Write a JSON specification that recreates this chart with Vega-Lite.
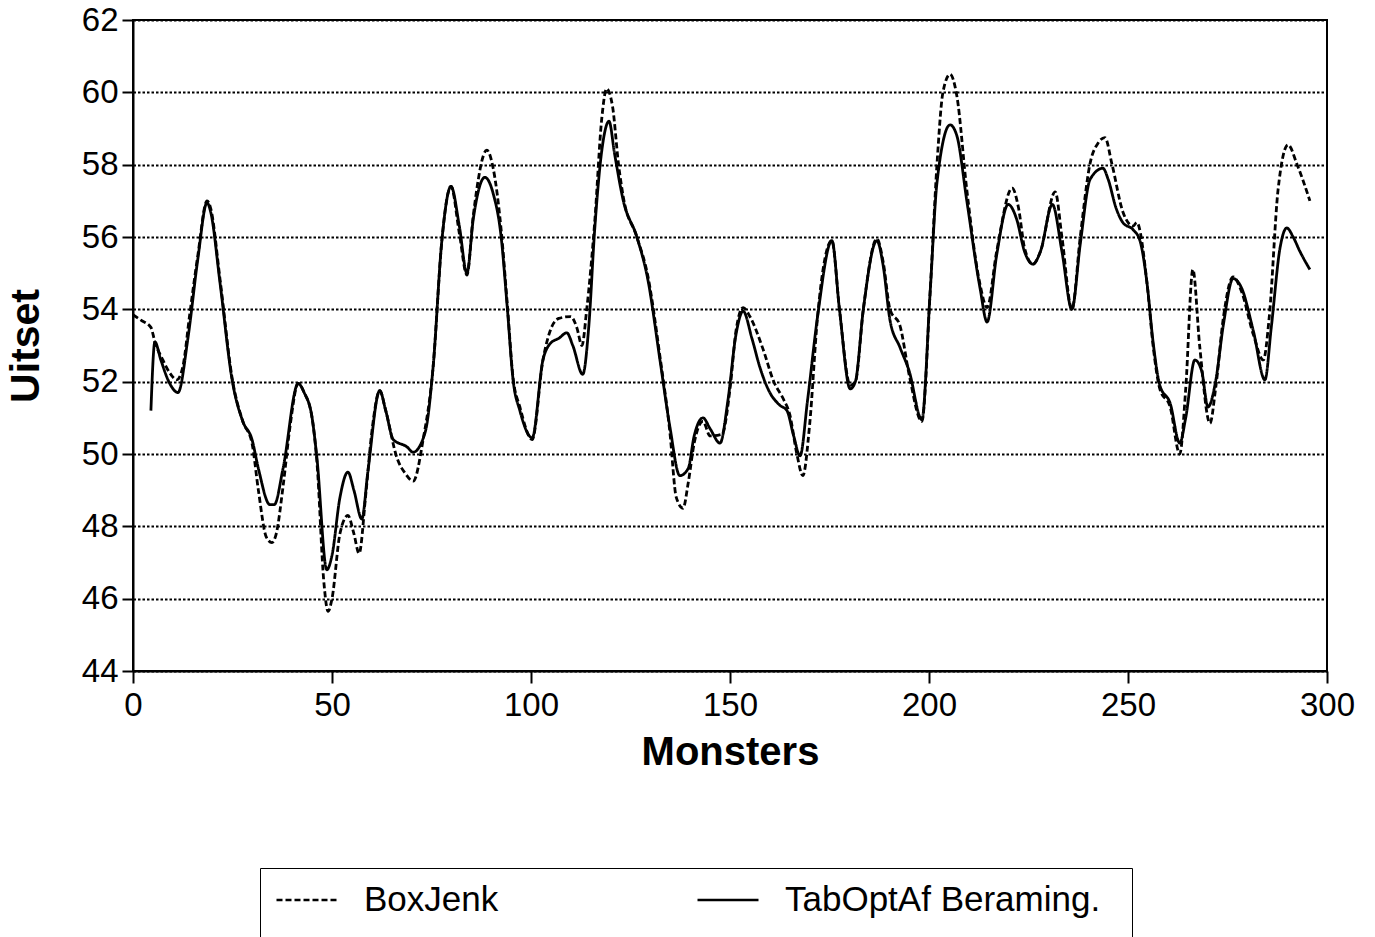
{
  "$schema": "https://vega.github.io/schema/vega-lite/v6.json",
  "width": 1194,
  "height": 651,
  "autosize": {"type": "none"},
  "padding": {"left": 133, "top": 20, "right": 48, "bottom": 266},
  "background": "white",
  "config": {
    "font": "Liberation Sans",
    "view": {"stroke": "black", "strokeWidth": 2}
  },
  "data": {"values": [
{"s":"TabOptAf Beraming.","m":4.5,"u":51.2},{"s":"TabOptAf Beraming.","m":5.5,"u":53.1},{"s":"TabOptAf Beraming.","m":7,"u":52.6},{"s":"TabOptAf Beraming.","m":9,"u":52.0},{"s":"TabOptAf Beraming.","m":11.3,"u":51.7},{"s":"TabOptAf Beraming.","m":13.8,"u":53.2},{"s":"TabOptAf Beraming.","m":16.3,"u":55.4},{"s":"TabOptAf Beraming.","m":18.6,"u":56.95},{"s":"TabOptAf Beraming.","m":19.5,"u":56.7},{"s":"TabOptAf Beraming.","m":21.9,"u":54.7},{"s":"TabOptAf Beraming.","m":24.9,"u":52.05},{"s":"TabOptAf Beraming.","m":27.6,"u":50.9},{"s":"TabOptAf Beraming.","m":29.9,"u":50.4},{"s":"TabOptAf Beraming.","m":31.5,"u":49.6},{"s":"TabOptAf Beraming.","m":34.4,"u":48.6},{"s":"TabOptAf Beraming.","m":35.5,"u":48.6},{"s":"TabOptAf Beraming.","m":37.7,"u":49.6},{"s":"TabOptAf Beraming.","m":41.5,"u":51.95},{"s":"TabOptAf Beraming.","m":43,"u":51.7},{"s":"TabOptAf Beraming.","m":45,"u":51.0},{"s":"TabOptAf Beraming.","m":46.2,"u":49.9},{"s":"TabOptAf Beraming.","m":48.7,"u":46.8},{"s":"TabOptAf Beraming.","m":50,"u":47.2},{"s":"TabOptAf Beraming.","m":52,"u":48.8},{"s":"TabOptAf Beraming.","m":54,"u":49.5},{"s":"TabOptAf Beraming.","m":55.5,"u":49.0},{"s":"TabOptAf Beraming.","m":57.5,"u":48.2},{"s":"TabOptAf Beraming.","m":59,"u":49.5},{"s":"TabOptAf Beraming.","m":62,"u":51.75},{"s":"TabOptAf Beraming.","m":63.5,"u":51.2},{"s":"TabOptAf Beraming.","m":65.4,"u":50.4},{"s":"TabOptAf Beraming.","m":68.8,"u":50.2},{"s":"TabOptAf Beraming.","m":70.4,"u":50.05},{"s":"TabOptAf Beraming.","m":73.4,"u":50.6},{"s":"TabOptAf Beraming.","m":75.4,"u":52.4},{"s":"TabOptAf Beraming.","m":77.6,"u":55.9},{"s":"TabOptAf Beraming.","m":79.9,"u":57.4},{"s":"TabOptAf Beraming.","m":82,"u":56.3},{"s":"TabOptAf Beraming.","m":83.9,"u":55.0},{"s":"TabOptAf Beraming.","m":85.5,"u":56.5},{"s":"TabOptAf Beraming.","m":88.4,"u":57.65},{"s":"TabOptAf Beraming.","m":90.5,"u":57.2},{"s":"TabOptAf Beraming.","m":92.5,"u":56.0},{"s":"TabOptAf Beraming.","m":94,"u":54.1},{"s":"TabOptAf Beraming.","m":95.5,"u":52.05},{"s":"TabOptAf Beraming.","m":97.2,"u":51.2},{"s":"TabOptAf Beraming.","m":100.3,"u":50.45},{"s":"TabOptAf Beraming.","m":103,"u":52.6},{"s":"TabOptAf Beraming.","m":104.8,"u":53.05},{"s":"TabOptAf Beraming.","m":107,"u":53.2},{"s":"TabOptAf Beraming.","m":109,"u":53.35},{"s":"TabOptAf Beraming.","m":110.5,"u":53.0},{"s":"TabOptAf Beraming.","m":113,"u":52.2},{"s":"TabOptAf Beraming.","m":114.5,"u":53.5},{"s":"TabOptAf Beraming.","m":116,"u":56.2},{"s":"TabOptAf Beraming.","m":117.8,"u":58.4},{"s":"TabOptAf Beraming.","m":119.6,"u":59.2},{"s":"TabOptAf Beraming.","m":121,"u":58.3},{"s":"TabOptAf Beraming.","m":123.2,"u":57.0},{"s":"TabOptAf Beraming.","m":126.6,"u":56.0},{"s":"TabOptAf Beraming.","m":129.4,"u":54.8},{"s":"TabOptAf Beraming.","m":132.4,"u":52.6},{"s":"TabOptAf Beraming.","m":134.9,"u":50.75},{"s":"TabOptAf Beraming.","m":137.4,"u":49.4},{"s":"TabOptAf Beraming.","m":139.5,"u":49.6},{"s":"TabOptAf Beraming.","m":141,"u":50.5},{"s":"TabOptAf Beraming.","m":143.2,"u":51.0},{"s":"TabOptAf Beraming.","m":145,"u":50.7},{"s":"TabOptAf Beraming.","m":147.5,"u":50.3},{"s":"TabOptAf Beraming.","m":149.5,"u":51.5},{"s":"TabOptAf Beraming.","m":151.5,"u":53.3},{"s":"TabOptAf Beraming.","m":153.3,"u":53.95},{"s":"TabOptAf Beraming.","m":155.5,"u":53.2},{"s":"TabOptAf Beraming.","m":157.5,"u":52.4},{"s":"TabOptAf Beraming.","m":160,"u":51.7},{"s":"TabOptAf Beraming.","m":162.5,"u":51.35},{"s":"TabOptAf Beraming.","m":164.3,"u":51.2},{"s":"TabOptAf Beraming.","m":166,"u":50.5},{"s":"TabOptAf Beraming.","m":167.6,"u":49.95},{"s":"TabOptAf Beraming.","m":169.5,"u":51.5},{"s":"TabOptAf Beraming.","m":172,"u":53.8},{"s":"TabOptAf Beraming.","m":175.6,"u":55.9},{"s":"TabOptAf Beraming.","m":177.5,"u":54.0},{"s":"TabOptAf Beraming.","m":180.2,"u":51.8},{"s":"TabOptAf Beraming.","m":181.5,"u":52.0},{"s":"TabOptAf Beraming.","m":183.5,"u":54.0},{"s":"TabOptAf Beraming.","m":186.9,"u":55.9},{"s":"TabOptAf Beraming.","m":188.5,"u":55.2},{"s":"TabOptAf Beraming.","m":190.2,"u":53.7},{"s":"TabOptAf Beraming.","m":192.7,"u":52.95},{"s":"TabOptAf Beraming.","m":195,"u":52.3},{"s":"TabOptAf Beraming.","m":198.2,"u":50.95},{"s":"TabOptAf Beraming.","m":200.3,"u":54.5},{"s":"TabOptAf Beraming.","m":202,"u":57.5},{"s":"TabOptAf Beraming.","m":205.3,"u":59.1},{"s":"TabOptAf Beraming.","m":207,"u":58.8},{"s":"TabOptAf Beraming.","m":209.5,"u":57.0},{"s":"TabOptAf Beraming.","m":212.8,"u":54.6},{"s":"TabOptAf Beraming.","m":214.6,"u":53.65},{"s":"TabOptAf Beraming.","m":217,"u":55.5},{"s":"TabOptAf Beraming.","m":219.9,"u":56.9},{"s":"TabOptAf Beraming.","m":222,"u":56.5},{"s":"TabOptAf Beraming.","m":224,"u":55.6},{"s":"TabOptAf Beraming.","m":226.1,"u":55.25},{"s":"TabOptAf Beraming.","m":228,"u":55.6},{"s":"TabOptAf Beraming.","m":231,"u":56.9},{"s":"TabOptAf Beraming.","m":233.4,"u":55.6},{"s":"TabOptAf Beraming.","m":235.9,"u":54.0},{"s":"TabOptAf Beraming.","m":238,"u":55.8},{"s":"TabOptAf Beraming.","m":240.5,"u":57.6},{"s":"TabOptAf Beraming.","m":243.7,"u":57.9},{"s":"TabOptAf Beraming.","m":245,"u":57.6},{"s":"TabOptAf Beraming.","m":247,"u":56.8},{"s":"TabOptAf Beraming.","m":248.7,"u":56.4},{"s":"TabOptAf Beraming.","m":251.3,"u":56.2},{"s":"TabOptAf Beraming.","m":253,"u":55.9},{"s":"TabOptAf Beraming.","m":254.8,"u":54.7},{"s":"TabOptAf Beraming.","m":256.3,"u":53.1},{"s":"TabOptAf Beraming.","m":258,"u":51.9},{"s":"TabOptAf Beraming.","m":260.6,"u":51.4},{"s":"TabOptAf Beraming.","m":263,"u":50.3},{"s":"TabOptAf Beraming.","m":264.5,"u":51.0},{"s":"TabOptAf Beraming.","m":266.8,"u":52.6},{"s":"TabOptAf Beraming.","m":268.5,"u":52.3},{"s":"TabOptAf Beraming.","m":270.1,"u":51.3},{"s":"TabOptAf Beraming.","m":272,"u":52.0},{"s":"TabOptAf Beraming.","m":274,"u":53.6},{"s":"TabOptAf Beraming.","m":276.4,"u":54.85},{"s":"TabOptAf Beraming.","m":278.5,"u":54.6},{"s":"TabOptAf Beraming.","m":281.5,"u":53.4},{"s":"TabOptAf Beraming.","m":284.4,"u":52.05},{"s":"TabOptAf Beraming.","m":286,"u":53.5},{"s":"TabOptAf Beraming.","m":288.2,"u":55.7},{"s":"TabOptAf Beraming.","m":289.9,"u":56.25},{"s":"TabOptAf Beraming.","m":291.5,"u":56.0},{"s":"TabOptAf Beraming.","m":293.2,"u":55.6},{"s":"TabOptAf Beraming.","m":295.7,"u":55.1},
{"s":"BoxJenk","m":0,"u":53.85},{"s":"BoxJenk","m":2,"u":53.7},{"s":"BoxJenk","m":4.5,"u":53.5},{"s":"BoxJenk","m":5.5,"u":53.1},{"s":"BoxJenk","m":7.5,"u":52.6},{"s":"BoxJenk","m":9.5,"u":52.2},{"s":"BoxJenk","m":11,"u":52.05},{"s":"BoxJenk","m":12.5,"u":52.4},{"s":"BoxJenk","m":14.3,"u":53.9},{"s":"BoxJenk","m":16.3,"u":55.5},{"s":"BoxJenk","m":18.6,"u":57.0},{"s":"BoxJenk","m":19.5,"u":56.8},{"s":"BoxJenk","m":21.9,"u":54.8},{"s":"BoxJenk","m":24.9,"u":52.1},{"s":"BoxJenk","m":27.6,"u":50.9},{"s":"BoxJenk","m":29.9,"u":50.3},{"s":"BoxJenk","m":31.5,"u":49.0},{"s":"BoxJenk","m":33.5,"u":47.7},{"s":"BoxJenk","m":34.9,"u":47.55},{"s":"BoxJenk","m":36,"u":47.8},{"s":"BoxJenk","m":37.7,"u":49.1},{"s":"BoxJenk","m":39.5,"u":50.8},{"s":"BoxJenk","m":41.5,"u":51.95},{"s":"BoxJenk","m":43,"u":51.7},{"s":"BoxJenk","m":45,"u":51.0},{"s":"BoxJenk","m":46.2,"u":49.8},{"s":"BoxJenk","m":48,"u":46.4},{"s":"BoxJenk","m":49,"u":45.65},{"s":"BoxJenk","m":50,"u":46.0},{"s":"BoxJenk","m":52,"u":47.8},{"s":"BoxJenk","m":54,"u":48.3},{"s":"BoxJenk","m":55.5,"u":47.8},{"s":"BoxJenk","m":56.8,"u":47.25},{"s":"BoxJenk","m":58.5,"u":48.9},{"s":"BoxJenk","m":60,"u":50.6},{"s":"BoxJenk","m":62,"u":51.75},{"s":"BoxJenk","m":63.5,"u":51.2},{"s":"BoxJenk","m":66.3,"u":49.9},{"s":"BoxJenk","m":68.5,"u":49.45},{"s":"BoxJenk","m":70.4,"u":49.25},{"s":"BoxJenk","m":72.9,"u":50.4},{"s":"BoxJenk","m":75.4,"u":52.4},{"s":"BoxJenk","m":77.6,"u":55.9},{"s":"BoxJenk","m":79.9,"u":57.4},{"s":"BoxJenk","m":82,"u":56.1},{"s":"BoxJenk","m":83.9,"u":54.95},{"s":"BoxJenk","m":85.5,"u":56.6},{"s":"BoxJenk","m":88.9,"u":58.4},{"s":"BoxJenk","m":90.5,"u":57.9},{"s":"BoxJenk","m":92.5,"u":56.2},{"s":"BoxJenk","m":94,"u":54.2},{"s":"BoxJenk","m":95.5,"u":52.1},{"s":"BoxJenk","m":97.2,"u":51.3},{"s":"BoxJenk","m":100.3,"u":50.4},{"s":"BoxJenk","m":103,"u":52.6},{"s":"BoxJenk","m":104.8,"u":53.4},{"s":"BoxJenk","m":107,"u":53.75},{"s":"BoxJenk","m":110,"u":53.8},{"s":"BoxJenk","m":111.5,"u":53.5},{"s":"BoxJenk","m":112.8,"u":53.0},{"s":"BoxJenk","m":114,"u":54.0},{"s":"BoxJenk","m":116,"u":56.4},{"s":"BoxJenk","m":117.8,"u":59.3},{"s":"BoxJenk","m":119,"u":60.1},{"s":"BoxJenk","m":120.5,"u":59.6},{"s":"BoxJenk","m":122,"u":58.0},{"s":"BoxJenk","m":123.2,"u":57.1},{"s":"BoxJenk","m":126.6,"u":56.0},{"s":"BoxJenk","m":129.4,"u":54.9},{"s":"BoxJenk","m":132.4,"u":52.7},{"s":"BoxJenk","m":134.9,"u":50.6},{"s":"BoxJenk","m":136.5,"u":48.8},{"s":"BoxJenk","m":138.2,"u":48.5},{"s":"BoxJenk","m":139.5,"u":49.2},{"s":"BoxJenk","m":141,"u":50.3},{"s":"BoxJenk","m":143.2,"u":50.9},{"s":"BoxJenk","m":145,"u":50.5},{"s":"BoxJenk","m":148,"u":50.55},{"s":"BoxJenk","m":150,"u":51.8},{"s":"BoxJenk","m":151.5,"u":53.4},{"s":"BoxJenk","m":153.3,"u":54.05},{"s":"BoxJenk","m":155,"u":53.8},{"s":"BoxJenk","m":158.3,"u":52.9},{"s":"BoxJenk","m":161,"u":52.0},{"s":"BoxJenk","m":163.5,"u":51.5},{"s":"BoxJenk","m":165,"u":51.1},{"s":"BoxJenk","m":166.8,"u":50.0},{"s":"BoxJenk","m":168.3,"u":49.4},{"s":"BoxJenk","m":170,"u":50.8},{"s":"BoxJenk","m":172,"u":53.8},{"s":"BoxJenk","m":175.6,"u":55.9},{"s":"BoxJenk","m":177.5,"u":54.0},{"s":"BoxJenk","m":180.2,"u":51.9},{"s":"BoxJenk","m":181.5,"u":52.0},{"s":"BoxJenk","m":183.5,"u":54.0},{"s":"BoxJenk","m":186.9,"u":55.95},{"s":"BoxJenk","m":188.5,"u":55.3},{"s":"BoxJenk","m":190.2,"u":54.0},{"s":"BoxJenk","m":192.7,"u":53.55},{"s":"BoxJenk","m":195,"u":52.2},{"s":"BoxJenk","m":198.2,"u":50.9},{"s":"BoxJenk","m":200.3,"u":54.5},{"s":"BoxJenk","m":202,"u":58.0},{"s":"BoxJenk","m":203.5,"u":60.0},{"s":"BoxJenk","m":205.3,"u":60.5},{"s":"BoxJenk","m":207,"u":59.9},{"s":"BoxJenk","m":209.5,"u":57.3},{"s":"BoxJenk","m":212.8,"u":54.7},{"s":"BoxJenk","m":214.6,"u":54.05},{"s":"BoxJenk","m":217,"u":55.6},{"s":"BoxJenk","m":220.9,"u":57.35},{"s":"BoxJenk","m":222.5,"u":56.8},{"s":"BoxJenk","m":224,"u":55.7},{"s":"BoxJenk","m":226.1,"u":55.25},{"s":"BoxJenk","m":228,"u":55.6},{"s":"BoxJenk","m":231.7,"u":57.25},{"s":"BoxJenk","m":233.4,"u":56.0},{"s":"BoxJenk","m":235.9,"u":54.0},{"s":"BoxJenk","m":238,"u":56.0},{"s":"BoxJenk","m":240.5,"u":58.05},{"s":"BoxJenk","m":242.5,"u":58.6},{"s":"BoxJenk","m":244.2,"u":58.75},{"s":"BoxJenk","m":246,"u":58.0},{"s":"BoxJenk","m":248.7,"u":56.7},{"s":"BoxJenk","m":251.3,"u":56.3},{"s":"BoxJenk","m":252.2,"u":56.4},{"s":"BoxJenk","m":254.8,"u":54.7},{"s":"BoxJenk","m":256.3,"u":53.0},{"s":"BoxJenk","m":258,"u":51.8},{"s":"BoxJenk","m":260.6,"u":51.3},{"s":"BoxJenk","m":263,"u":50.0},{"s":"BoxJenk","m":264.5,"u":51.8},{"s":"BoxJenk","m":266.3,"u":55.1},{"s":"BoxJenk","m":268,"u":53.0},{"s":"BoxJenk","m":270.6,"u":50.85},{"s":"BoxJenk","m":272,"u":51.8},{"s":"BoxJenk","m":274,"u":53.8},{"s":"BoxJenk","m":276.4,"u":54.9},{"s":"BoxJenk","m":278.5,"u":54.5},{"s":"BoxJenk","m":281.5,"u":53.3},{"s":"BoxJenk","m":284,"u":52.6},{"s":"BoxJenk","m":285.5,"u":53.8},{"s":"BoxJenk","m":287.7,"u":57.3},{"s":"BoxJenk","m":290.2,"u":58.55},{"s":"BoxJenk","m":292.5,"u":58.0},{"s":"BoxJenk","m":295.7,"u":57.0}
  ]},
  "mark": {"type": "line", "interpolate": "monotone", "strokeWidth": 2.8, "color": "black"},
  "encoding": {
    "x": {
      "field": "m", "type": "quantitative",
      "scale": {"domain": [0, 300], "nice": false},
      "axis": {
        "values": [0, 50, 100, 150, 200, 250, 300],
        "title": "Monsters", "grid": false,
        "domainColor": "black", "domainWidth": 2,
        "tickColor": "black", "tickWidth": 2, "tickSize": 12,
        "labelFont": "Liberation Sans", "labelFontSize": 33, "labelColor": "black", "labelPadding": 6,
        "labelFlush": false,
        "titleFont": "Liberation Sans", "titleFontSize": 40, "titleFontWeight": "bold", "titleColor": "black", "titlePadding": 10
      }
    },
    "y": {
      "field": "u", "type": "quantitative",
      "scale": {"domain": [44, 62], "nice": false, "zero": false},
      "axis": {
        "values": [44, 46, 48, 50, 52, 54, 56, 58, 60, 62],
        "title": "Uitset", "grid": true,
        "gridColor": "black", "gridDash": [2.5, 2], "gridWidth": 2, "gridOpacity": 1,
        "domainColor": "black", "domainWidth": 2,
        "tickColor": "black", "tickWidth": 2, "tickSize": 11,
        "labelFont": "Liberation Sans", "labelFontSize": 33, "labelColor": "black", "labelPadding": 4,
        "labelFlush": false,
        "titleFont": "Liberation Sans", "titleFontSize": 41, "titleFontWeight": "bold", "titleColor": "black", "titlePadding": 34
      }
    },
    "strokeDash": {
      "field": "s", "type": "nominal",
      "scale": {"domain": ["BoxJenk", "TabOptAf Beraming."], "range": [[6, 3], [1, 0]]},
      "legend": {
        "orient": "none", "legendX": 127, "legendY": 848,
        "direction": "horizontal", "columns": 2,
        "title": ".", "titleOrient": "right", "titleFontSize": 69, "titlePadding": 12,
        "titleColor": "white", "titleBaseline": "top",
        "strokeColor": "black", "padding": 0,
        "symbolType": "stroke", "symbolSize": 3721, "symbolStrokeWidth": 2.5, "symbolStrokeColor": "black",
        "symbolOffset": 15,
        "labelFont": "Liberation Sans", "labelFontSize": 35, "labelColor": "black", "labelOffset": 25,
        "labelLimit": 0,
        "columnPadding": 182
      }
    }
  }
}
